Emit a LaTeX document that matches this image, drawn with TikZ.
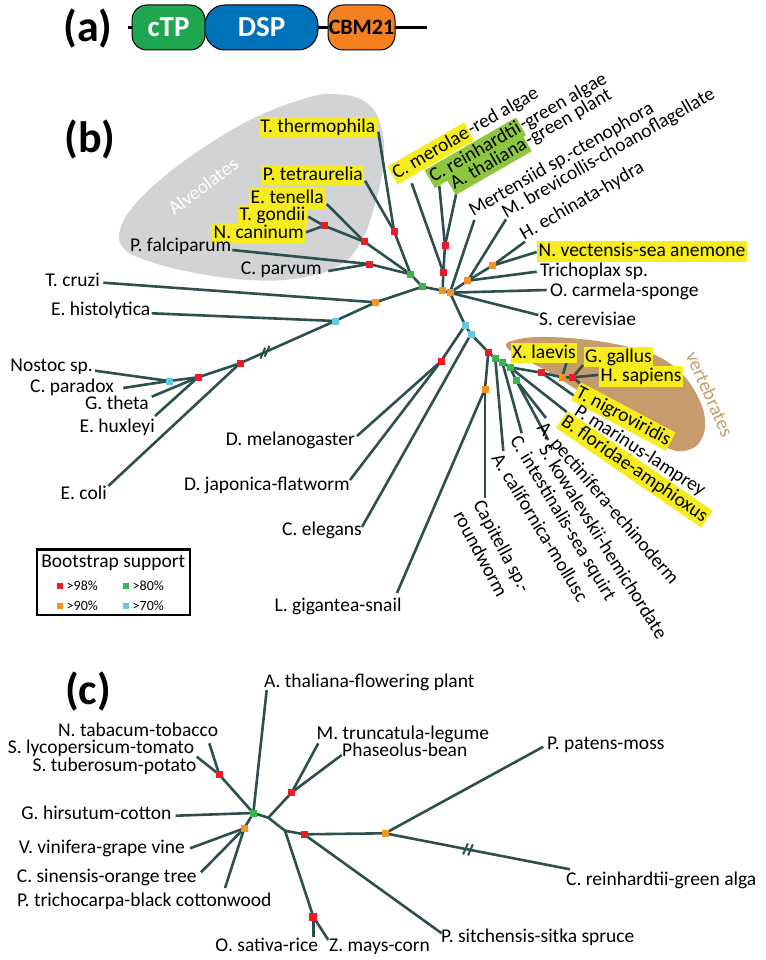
\documentclass[tikz,border=0pt]{standalone}
\usepackage{fontspec}
\setmainfont{Carlito}
\usetikzlibrary{calc}
\definecolor{treec}{RGB}{44,80,78}
\definecolor{nred}{RGB}{237,28,36}
\definecolor{ngreen}{RGB}{57,181,74}
\definecolor{norange}{RGB}{247,148,29}
\definecolor{ncyan}{RGB}{100,200,225}
\definecolor{hlyellow}{RGB}{246,236,30}
\definecolor{hlgreen}{RGB}{141,198,63}
\definecolor{blobgray}{RGB}{209,211,212}
\definecolor{blobtan}{RGB}{198,156,109}
\definecolor{ctpc}{RGB}{30,166,80}
\definecolor{dspc}{RGB}{0,114,188}
\definecolor{cbmc}{RGB}{245,128,32}
\newcommand{\lbl}{\fontsize{19.5}{22.5}\selectfont}
\newcommand{\smalllbl}{\fontsize{14}{16}\selectfont}
\newcommand{\pfont}{\fontsize{44}{50}\selectfont\bfseries}
\newcommand{\hly}[1]{{\setlength{\fboxsep}{1.5pt}\colorbox{hlyellow}{\rule[-3.5pt]{0pt}{17.5pt}#1}}}
\newcommand{\hlg}[1]{{\setlength{\fboxsep}{1.5pt}\colorbox{hlgreen}{\rule[-3.5pt]{0pt}{17.5pt}#1}}}
\begin{document}
\begin{tikzpicture}[x=1pt,y=-1pt,
  br/.style={draw=treec, line width=2.6pt, line join=round},
  brk/.style={draw=treec, line width=2pt},
  sqn/.style={rectangle, inner sep=0pt, minimum size=7pt},
  sqr/.style={sqn, fill=nred}, sqg/.style={sqn, fill=ngreen},
  sqo/.style={sqn, fill=norange}, sqc/.style={sqn, fill=ncyan},
  lab/.style={inner sep=0pt, text height=14pt, text depth=3.5pt, font=\lbl},
  dbox/.style={draw=black, line width=1pt, minimum height=45pt, rounded corners=15pt, inner sep=0pt, font=\fontsize{29}{32}\selectfont\bfseries},
  legsq/.style={rectangle, inner sep=0pt, minimum size=6pt}]
\useasboundingbox (0,0) rectangle (765,960);

% ================= panel (a)
\node[font=\pfont] (pa) at (88,29) {(a)};
\coordinate (aL) at (128,27.5);
\coordinate (aR) at (427,27.5);
\draw[line width=2.5pt] (aL) -- (aR);
\node[dbox, fill=ctpc, text=white, minimum width=73pt] (ctp) at (168.5,27.5) {cTP};
\node[dbox, fill=dspc, text=white, minimum width=113pt, rounded corners=20pt] (dsp) at (261.5,27.5) {DSP};
\node[dbox, fill=cbmc, text=black, minimum width=67pt, font=\fontsize{22}{24}\selectfont\bfseries] (cbm) at (361.5,27.5) {CBM21};

% ================= panel (b)
\node[font=\pfont] (pb) at (90,140) {(b)};
\fill[blobgray] plot[smooth cycle, tension=0.7] coordinates {(120,230) (132,208) (160,180) (200,150) (250,120) (300,100) (335,94) (367,103) (382,130) (383,165) (376,200) (362,240) (340,265) (300,278) (250,280) (190,272) (140,258) (122,246)};
\node[rotate=37, text=white, font=\lbl] (alv) at (203,186) {Alveolates};
\fill[blobtan] plot[smooth cycle, tension=0.7] coordinates {(506,346) (515,340) (540,337) (580,339) (620,345) (655,355) (680,372) (697,395) (705,420) (701,440) (688,450) (670,449) (640,432) (610,413) (577,390) (545,370) (520,357)};
\node[rotate=-66, text=blobtan, font=\lbl] (vt) at (710,394) {vertebrates};

% junctions
\coordinate (gA) at (410.7,274.3);
\coordinate (gB) at (422.3,286.7);
\coordinate (oT) at (375.7,302.3);
\coordinate (cE) at (335,321);
\coordinate (rO1) at (240,363.3);
\coordinate (rO2) at (198,377.3);
\coordinate (cO) at (169,381);
\coordinate (rTh) at (394,231);
\coordinate (rTe) at (364.3,241.7);
\coordinate (rTg) at (324,225.7);
\coordinate (rPf) at (369,264);
\coordinate (oA) at (442.7,290.7);
\coordinate (oB) at (450,292.7);
\coordinate (rCm) at (443.3,272.3);
\coordinate (rCr) at (445,245.7);
\coordinate (oC) at (467.7,280.7);
\coordinate (oD) at (492.3,265.7);
\coordinate (cA) at (465,325.3);
\coordinate (cB) at (471,334);
\coordinate (rDm) at (441,361.3);
\coordinate (rBil) at (488.3,352.3);
\coordinate (oCap) at (485,389);
\coordinate (gC1) at (495.3,358.3);
\coordinate (gC2) at (502.3,362.3);
\coordinate (gC3) at (510,367.3);
\coordinate (gC4) at (516,380);
\coordinate (rV) at (541.5,372.7);
\coordinate (oV) at (562.2,377.3);
\coordinate (rV2) at (572.7,377.3);

% leaf ends
\coordinate (lTth) at (378.3,131.7);
\coordinate (lPte) at (365,180.7);
\coordinate (lEte) at (326.7,204);
\coordinate (lTgo) at (308.3,216.7);
\coordinate (lNca) at (306,232.3);
\coordinate (lPfa) at (232.3,250);
\coordinate (lCpv) at (328.3,271);
\coordinate (lTcr) at (103.3,282.7);
\coordinate (lEhi) at (151.7,313.3);
\coordinate (lNos) at (95,370.7);
\coordinate (lCpx) at (123.3,388);
\coordinate (lGth) at (151.7,396.7);
\coordinate (lEhu) at (155,416);
\coordinate (lEco) at (108.3,486);
\coordinate (lDme) at (357,436);
\coordinate (lDja) at (350,480);
\coordinate (lCel) at (362,527);
\coordinate (lLgi) at (397,593);
\coordinate (lCap) at (485,498);
\coordinate (lAca) at (503.3,451);
\coordinate (lCin) at (521.7,433.3);
\coordinate (lSko) at (548.3,440);
\coordinate (lApe) at (546,418);
\coordinate (lBfl) at (566.7,412);
\coordinate (lPma) at (580,400);
\coordinate (lTni) at (580,383.3);
\coordinate (lHsa) at (598,375);
\coordinate (lGga) at (583,365);
\coordinate (lXla) at (566.7,361.7);
\coordinate (lSce) at (538.3,315);
\coordinate (lOca) at (546.7,290);
\coordinate (lTri) at (536.7,271.7);
\coordinate (lNve) at (536.7,252);
\coordinate (lHec) at (525,241.7);
\coordinate (lMbr) at (506,219.3);
\coordinate (lMer) at (474.3,220);
\coordinate (lAth) at (457,190);
\coordinate (lCre) at (439.3,186);
\coordinate (lCme) at (411.7,183.3);

% branches
\draw[br] (lTth) -- (rTh) -- (gA);
\draw[br] (lPte) -- (rTh);
\draw[br] (lEte) -- (rTe) -- (gA);
\draw[br] (rTg) -- (rTe);
\draw[br] (lTgo) -- (rTg);
\draw[br] (lNca) -- (rTg);
\draw[br] (lPfa) -- (rPf) -- (gA);
\draw[br] (lCpv) -- (rPf);
\draw[br] (gA) -- (gB) -- (oT) -- (cE) -- (rO1) -- (rO2) -- (cO);
\draw[br] (lTcr) -- (oT);
\draw[br] (lEhi) -- (cE);
\draw[br] (rO1) -- (lEco);
\draw[br] (rO2) -- (lGth);
\draw[br] (rO2) -- (lEhu);
\draw[br] (cO) -- (lNos);
\draw[br] (cO) -- (lCpx);
\draw[br] (gB) -- (oA) -- (oB);
\draw[br] (oA) -- (rCm) -- (rCr);
\draw[br] (rCm) -- (lCme);
\draw[br] (rCr) -- (lCre);
\draw[br] (rCr) -- (lAth);
\draw[br] (oB) -- (lMer);
\draw[br] (oB) -- (oC) -- (oD);
\draw[br] (oC) -- (lMbr);
\draw[br] (oC) -- (lTri);
\draw[br] (oD) -- (lHec);
\draw[br] (oD) -- (lNve);
\draw[br] (oB) -- (lOca);
\draw[br] (oB) -- (lSce);
\draw[br] (oB) -- (cA) -- (cB) -- (rBil);
\draw[br] (cA) -- (rDm);
\draw[br] (rDm) -- (lDme);
\draw[br] (rDm) -- (lDja);
\draw[br] (cB) -- (lCel);
\draw[br] (rBil) -- (oCap);
\draw[br] (oCap) -- (lLgi);
\draw[br] (oCap) -- (lCap);
\draw[br] (rBil) -- (gC1) -- (gC2) -- (gC3) -- (rV) -- (oV) -- (rV2);
\draw[br] (gC1) -- (lAca);
\draw[br] (gC2) -- (lCin);
\draw[br] (gC3) -- (gC4);
\draw[br] (gC4) -- (lApe);
\draw[br] (gC4) -- (lSko);
\draw[br] (gC3) -- (lBfl);
\draw[br] (rV) -- (lPma);
\draw[br] (oV) -- (lXla);
\draw[br] (rV2) -- (lGga);
\draw[br] (rV2) -- (lHsa);
\draw[br] (rV2) -- (lTni);
% break
\draw[brk] ($(cE)!0.715!(rO1)+(2.4,-5.5)$) -- ($(cE)!0.715!(rO1)+(-2.4,5.5)$);
\draw[brk] ($(cE)!0.76!(rO1)+(2.4,-5.5)$) -- ($(cE)!0.76!(rO1)+(-2.4,5.5)$);

% support squares
\node[sqg] (ngA) at (gA) {};
\node[sqg] (ngB) at (gB) {};
\node[sqo] (noT) at (oT) {};
\node[sqc] (ncE) at (cE) {};
\node[sqr] (nrO1) at (rO1) {};
\node[sqr] (nrO2) at (rO2) {};
\node[sqc] (ncO) at (cO) {};
\node[sqr] (nrTh) at (rTh) {};
\node[sqr] (nrTe) at (rTe) {};
\node[sqr] (nrTg) at (rTg) {};
\node[sqr] (nrPf) at (rPf) {};
\node[sqo] (noA) at (oA) {};
\node[sqo] (noB) at (oB) {};
\node[sqr] (nrCm) at (rCm) {};
\node[sqr] (nrCr) at (rCr) {};
\node[sqo] (noC) at (oC) {};
\node[sqo] (noD) at (oD) {};
\node[sqc] (ncA) at (cA) {};
\node[sqc] (ncB) at (cB) {};
\node[sqr] (nrDm) at (rDm) {};
\node[sqr] (nrBil) at (rBil) {};
\node[sqo] (noCap) at (oCap) {};
\node[sqg] (ngC1) at (gC1) {};
\node[sqg] (ngC2) at (gC2) {};
\node[sqg] (ngC3) at (gC3) {};
\node[sqg] (ngC4) at (gC4) {};
\node[sqr] (nrV) at (rV) {};
\node[sqo] (noV) at (oV) {};
\node[sqr] (nrV2) at (rV2) {};

% labels left
\node[lab, anchor=east] (tTth) at (377,127) {\hly{T. thermophila}};
\node[lab, anchor=east] (tPte) at (364.5,175) {\hly{P. tetraurelia}};
\node[lab, anchor=east] (tEte) at (325.5,198.5) {\hly{E. tenella}};
\node[lab, anchor=east] (tTgo) at (307,215) {\hly{T. gondii}};
\node[lab, anchor=east] (tNca) at (305.5,233.3) {\hly{N. caninum}};
\node[lab, anchor=east] (tPfa) at (231.5,246.7) {P. falciparum};
\node[lab, anchor=east] (tCpv) at (322,269.3) {C. parvum};
\node[lab, anchor=east] (tTcr) at (100,281.7) {T. cruzi};
\node[lab, anchor=east] (tEhi) at (150.5,310.7) {E. histolytica};
\node[lab, anchor=east] (tNos) at (93,366) {Nostoc sp.};
\node[lab, anchor=east] (tCpx) at (114,387) {C. paradox};
\node[lab, anchor=east] (tGth) at (149,404) {G. theta};
\node[lab, anchor=east] (tEhu) at (155,427) {E. huxleyi};
\node[lab, anchor=east] (tEco) at (107,494) {E. coli};
\node[lab, anchor=east] (tDme) at (355,440) {D. melanogaster};
\node[lab, anchor=east] (tDja) at (350,485) {D. japonica-flatworm};
\node[lab, anchor=east] (tCel) at (362,530) {C. elegans};
\node[lab, anchor=east] (tLgi) at (401.7,606) {L. gigantea-snail};
% labels right
\node[lab, anchor=west] (tNve) at (537,251.7) {\hly{N. vectensis-sea anemone}};
\node[lab, anchor=west] (tTri) at (540,271.7) {Trichoplax sp.};
\node[lab, anchor=west] (tOca) at (550,291) {O. carmela-sponge};
\node[lab, anchor=west] (tSce) at (539,320) {S. cerevisiae};
\node[lab, anchor=south east] (tXla) at (577.5,362) {\hly{X. laevis}};
\node[lab, anchor=west] (tGga) at (583.5,357) {\hly{G. gallus}};
\node[lab, anchor=west] (tHsa) at (599,376.7) {\hly{H. sapiens}};
% rotated up
\node[lab, rotate=30, anchor=south west] (tCme) at (397,183.3) {\hly{C. merolae}-red algae};
\node[lab, rotate=30, anchor=south west] (tCre) at (434,187) {\hlg{C. reinhardtii}-green algae};
\node[lab, rotate=30, anchor=south west] (tAth) at (455,194) {\hlg{A. thaliana}-green plant};
\node[lab, rotate=30, anchor=south west] (tMer) at (475,220) {Mertensiid sp.-ctenophora};
\node[lab, rotate=30, anchor=south west] (tMbr) at (508,222) {M. brevicollis-choanoflagellate};
\node[lab, rotate=30, anchor=south west] (tHec) at (526,244) {H. echinata-hydra};
% rotated down
\node[lab, rotate=-28, anchor=north west] (tTni) at (lTni) {\hly{T. nigroviridis}};
\node[lab, rotate=-33, anchor=north west] (tPma) at ($(lPma)+(1,2)$) {P. marinus-lamprey};
\node[lab, rotate=-34.5, anchor=north west] (tBfl) at (lBfl) {\hly{B. floridae-amphioxus}};
\node[lab, rotate=-49.5, anchor=north west] (tApe) at ($(lApe)+(1,1)$) {A. pectinifera-echinoderm};
\node[lab, rotate=-58, anchor=north west] (tSko) at ($(lSko)+(2,2)$) {S. kowalevskii-hemichordate};
\node[lab, rotate=-59, anchor=north west] (tCin) at (lCin) {C. intestinalis-sea squirt};
\node[lab, rotate=-59, anchor=north west] (tAca) at (lAca) {A. californica-mollusc};
\node[inner sep=0pt, font=\lbl, align=left, rotate=-62, anchor=north west] (tCap) at (lCap) {Capitella sp.-\\roundworm};

% legend
\node[draw, line width=2.5pt, minimum width=153pt, minimum height=65.7pt, inner sep=0pt] (leg) at (113.3,582.2) {};
\node[font=\lbl, inner sep=0pt] (legt) at (113.3,562.5) {Bootstrap support};
\node[legsq, fill=nred] (lq1) at (60,586) {};
\node[legsq, fill=ngreen] (lq2) at (126,586) {};
\node[legsq, fill=norange] (lq3) at (60,606) {};
\node[legsq, fill=ncyan] (lq4) at (126,606) {};
\node[font=\smalllbl, anchor=west, inner sep=0pt] (lt1) at (66.5,586) {>98\%};
\node[font=\smalllbl, anchor=west, inner sep=0pt] (lt2) at (132.5,586) {>80\%};
\node[font=\smalllbl, anchor=west, inner sep=0pt] (lt3) at (66.5,606) {>90\%};
\node[font=\smalllbl, anchor=west, inner sep=0pt] (lt4) at (132.5,606) {>70\%};

% ================= panel (c)
\node[font=\pfont] (pc) at (88,691) {(c)};
\coordinate (cG) at (253.3,813);
\coordinate (cOr) at (244.3,828.3);
\coordinate (cRs) at (219.2,774.5);
\coordinate (cJ1) at (268.3,817.7);
\coordinate (cRl) at (291.7,792.5);
\coordinate (cJ2) at (285,830.7);
\coordinate (cRm) at (313.3,916.7);
\coordinate (cRp) at (304,834.3);
\coordinate (cOp) at (385,833.3);
\coordinate (eAth) at (266.7,690);
\coordinate (eMtr) at (318.3,743.3);
\coordinate (ePha) at (341.7,755);
\coordinate (ePpa) at (543.3,746.7);
\coordinate (eCre) at (570,869.3);
\coordinate (ePsi) at (441.7,933.3);
\coordinate (eZma) at (328.3,940);
\coordinate (eOsa) at (313.3,936.7);
\coordinate (eNta) at (209.3,743.3);
\coordinate (eSly) at (196.7,756.7);
\coordinate (eGhi) at (175.7,815.7);
\coordinate (eVvi) at (190,848.3);
\coordinate (eCsi) at (201,872.3);
\coordinate (ePtr) at (225,888);

\draw[br] (cG) -- (cRs);
\draw[br] (cRs) -- (eNta);
\draw[br] (cRs) -- (eSly);
\draw[br] (cG) -- (eAth);
\draw[br] (cG) -- (eGhi);
\draw[br] (cG) -- (cOr);
\draw[br] (cOr) -- (eVvi);
\draw[br] (cOr) -- (eCsi);
\draw[br] (cOr) -- (ePtr);
\draw[br] (cG) -- (cJ1) -- (cRl);
\draw[br] (cRl) -- (eMtr);
\draw[br] (cRl) -- (ePha);
\draw[br] (cJ1) -- (cJ2) -- (cRm);
\draw[br] (cRm) -- (eOsa);
\draw[br] (cRm) -- (eZma);
\draw[br] (cJ2) -- (cRp) -- (cOp);
\draw[br] (cRp) -- (ePsi);
\draw[br] (cOp) -- (ePpa);
\draw[br] (cOp) -- (eCre);
\draw[brk] ($(cOp)!0.435!(eCre)+(2.4,-5.5)$) -- ($(cOp)!0.435!(eCre)+(-2.4,5.5)$);
\draw[brk] ($(cOp)!0.462!(eCre)+(2.4,-5.5)$) -- ($(cOp)!0.462!(eCre)+(-2.4,5.5)$);

\node[sqg] (ncG) at (cG) {};
\node[sqo] (ncOr) at (cOr) {};
\node[sqr] (ncRs) at (cRs) {};
\node[sqr] (ncRl) at (cRl) {};
\node[sqr, minimum size=8pt] (ncRm) at (cRm) {};
\node[sqr] (ncRp) at (cRp) {};
\node[sqo] (ncOp) at (cOp) {};

\node[lab, anchor=west] (uAth) at (264,682.7) {A. thaliana-flowering plant};
\node[lab, anchor=west] (uMtr) at (316.5,734) {M. truncatula-legume};
\node[lab, anchor=west] (uPha) at (342,751.7) {Phaseolus-bean};
\node[lab, anchor=west] (uPpa) at (547,744) {P. patens-moss};
\node[lab, anchor=west] (uCre) at (566,880.7) {C. reinhardtii-green alga};
\node[lab, anchor=west] (uPsi) at (441,937.7) {P. sitchensis-sitka spruce};
\node[lab, anchor=west] (uZma) at (329,946.7) {Z. mays-corn};
\node[lab, anchor=east] (uOsa) at (318.3,946.7) {O. sativa-rice};
\node[lab, anchor=east] (uNta) at (218.3,731.7) {N. tabacum-tobacco};
\node[lab, anchor=east] (uSly) at (194.3,748.3) {S. lycopersicum-tomato};
\node[lab, anchor=east] (uStu) at (196.7,766.7) {S. tuberosum-potato};
\node[lab, anchor=east] (uGhi) at (171.7,814) {G. hirsutum-cotton};
\node[lab, anchor=east] (uVvi) at (185,848.3) {V. vinifera-grape vine};
\node[lab, anchor=east] (uCsi) at (196.7,877.3) {C. sinensis-orange tree};
\node[lab, anchor=east] (uPtr) at (271.7,901.7) {P. trichocarpa-black cottonwood};
\end{tikzpicture}
\end{document}
